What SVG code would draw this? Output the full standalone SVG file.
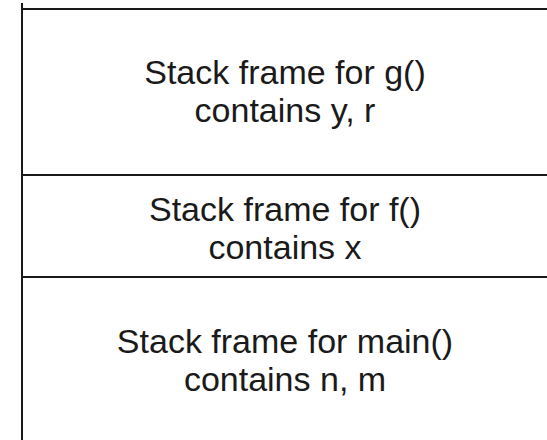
<svg xmlns="http://www.w3.org/2000/svg" width="547" height="440" viewBox="0 0 547 440">
<style>
.ln{stroke:#1a1a1a;stroke-width:2;fill:none}
.t{font-family:"Liberation Sans",Arial,sans-serif;font-size:34px;fill:#1a1a1a;text-anchor:middle}
</style>
<rect width="547" height="440" fill="#fff"/>
<g id="connectors">
<line class="ln" x1="22" y1="3" x2="22" y2="440"/>
<line class="ln" x1="22" y1="9" x2="547" y2="9"/>
<line class="ln" x1="22" y1="175" x2="547" y2="175"/>
<line class="ln" x1="22" y1="277" x2="547" y2="277"/>
</g>
<g id="frame-g">
<text class="t" x="285" y="84">Stack frame for g()</text>
<text class="t" x="285" y="122">contains y, r</text>
</g>
<g id="frame-f">
<text class="t" x="285" y="221">Stack frame for f()</text>
<text class="t" x="285" y="259">contains x</text>
</g>
<g id="frame-main">
<text class="t" x="285" y="353">Stack frame for main()</text>
<text class="t" x="285" y="391">contains n, m</text>
</g>
</svg>
